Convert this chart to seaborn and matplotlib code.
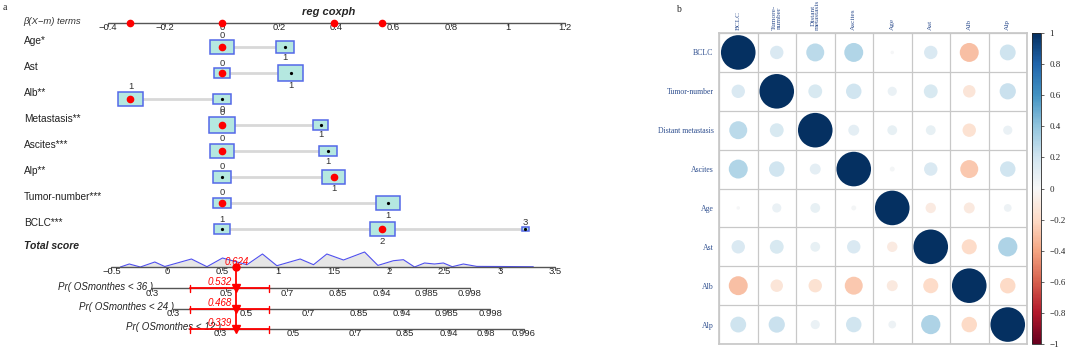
import numpy as np
import pandas as pd
import matplotlib
matplotlib.use("Agg")
import matplotlib.pyplot as plt
import matplotlib.patches as mpatches
import seaborn as sns

sns.set_theme(style="white")
plt.rcParams["font.family"] = ["Liberation Sans", "DejaVu Sans"]

# ---------------- panel a: nomogram ----------------
terms = ["Age*", "Ast", "Alb**", "Metastasis**", "Ascites***", "Alp**",
         "Tumor-number***", "BCLC***"]
term_levels = [["0", "1"], ["0", "1"], ["1", "0"], ["0", "1"], ["0", "1"],
               ["0", "1"], ["0", "1"], ["1", "2", "3"]]
term_betas = [[0, 0.22], [0, 0.24], [-0.32, 0], [0, 0.345], [0, 0.37],
              [0, 0.39], [0, 0.58], [0, 0.56, 1.06]]
term_freqs = [[0.61, 0.39], [0.30, 0.70], [0.65, 0.35], [0.74, 0.26],
              [0.65, 0.35], [0.38, 0.62], [0.36, 0.64], [0.26, 0.69, 0.05]]
patient_level = [0, 0, 0, 0, 0, 1, 0, 1]

beta_ticks = [-0.4, -0.2, 0, 0.2, 0.4, 0.6, 0.8, 1, 1.2]
score_ticks = [-0.5, 0, 0.5, 1, 1.5, 2, 2.5, 3, 3.5]
total_score = 0.624
score_ci = [0.21, 0.92]

# density of total score
dens_score = [-0.42, -0.34, -0.24, -0.11, -0.02, 0.22, 0.36, 0.5, 0.72, 0.86,
              0.99, 1.2, 1.32, 1.44, 1.59, 1.78, 1.9, 2.04, 2.13, 2.23, 2.32,
              2.41, 2.49, 2.57, 2.67, 2.79, 3.0, 3.3]
dens_height = [0, 3, 0, 5, 0.5, 8, 0.3, 9, 2.3, 13, 1.3, 8, 2.3, 13, 7, 15,
               1.6, 6.3, 7.3, 0, 4, 3, 4, 0.3, 3, 0.6, 0.5, 0.3]

horizons = [36, 24, 12]
prob_at_score = [0.532, 0.468, 0.339]
prob_ticks = [[0.3, 0.5, 0.7, 0.85, 0.94, 0.985, 0.998],
              [0.3, 0.5, 0.7, 0.85, 0.94, 0.985, 0.998],
              [0.3, 0.5, 0.7, 0.85, 0.94, 0.98, 0.996]]

# ---------------- panel b: correlations ----------------
corr_cols = ["BCLC", "Tumore-\nnumber", "Distant\nmetastasis", "Ascites",
             "Age", "Ast", "Alb", "Alp"]
corr_rows = ["BCLC", "Tumor-number", "Distant metastasis", "Ascites",
             "Age", "Ast", "Alb", "Alp"]
corr = [
    [1.00, 0.15, 0.27, 0.30, 0.01, 0.15, -0.30, 0.21],
    [0.15, 1.00, 0.16, 0.20, 0.07, 0.16, -0.13, 0.22],
    [0.27, 0.16, 1.00, 0.10, 0.08, 0.08, -0.15, 0.07],
    [0.30, 0.20, 0.10, 1.00, 0.02, 0.15, -0.27, 0.20],
    [0.01, 0.07, 0.08, 0.02, 1.00, -0.09, -0.10, 0.05],
    [0.15, 0.16, 0.08, 0.15, -0.09, 1.00, -0.19, 0.31],
    [-0.30, -0.13, -0.15, -0.27, -0.10, -0.19, 1.00, -0.20],
    [0.21, 0.22, 0.07, 0.20, 0.05, 0.31, -0.20, 1.00],
]
cbar_ticks = [1, 0.8, 0.6, 0.4, 0.2, 0, -0.2, -0.4, -0.6, -0.8, -1]


def fmt(v):
    return f"{v:g}".replace("-", "\u2212")


def cloglog(p):
    return np.log(-np.log(1 - np.asarray(p, dtype=float)))


W, H = 1065, 348
fig = plt.figure(figsize=(W / 100, H / 100), dpi=100)
fig.patch.set_facecolor("white")

# two overlaid axes for the nomogram: beta units and total-score units
rect_a = [0, 0, 660 / W, 1]
ax_b = fig.add_axes(rect_a)
ax_b.set_xlim(-222 / 286, (660 - 222) / 286)
ax_b.set_ylim(H, 0)
ax_b.axis("off")
ax_s = fig.add_axes(rect_a, facecolor="none")
ax_s.set_xlim(-167 / 111, (660 - 167) / 111)
ax_s.set_ylim(H, 0)
ax_s.axis("off")

axis_col = "#555555"
tick_fs = 6.8

fig.text(3 / W, 1 - 8 / H, "a", family="Liberation Serif", fontsize=7, va="center")
fig.text(329 / W, 1 - 12 / H, "reg coxph", fontsize=8, weight="bold",
         style="italic", ha="center", va="center")
fig.text(23 / W, 1 - 21 / H, "\u03b2(X\u2212m) terms", fontsize=6.8,
         style="italic", va="center", color="#333333")

# beta axis
ax_b.plot([beta_ticks[0], beta_ticks[-1]], [23, 23], color=axis_col, lw=1)
for t in beta_ticks:
    ax_b.plot([t, t], [23, 26], color=axis_col, lw=0.7)
    ax_b.text(t, 23.5, fmt(t), ha="center", va="top", fontsize=tick_fs)
obs_betas = sorted(set(term_betas[i][patient_level[i]] for i in range(len(terms))))
ax_b.plot(obs_betas, [23] * len(obs_betas), "o", color="red", ms=4.5, zorder=5)

# term rows
row_y = [47 + 26 * i for i in range(len(terms))]
for i, term in enumerate(terms):
    y = row_y[i]
    bs = term_betas[i]
    ax_b.plot([min(bs), max(bs)], [y, y], color="#d8d8d8", lw=2, zorder=1)
    for k, (lab, b, f) in enumerate(zip(term_levels[i], bs, term_freqs[i])):
        w = 30 * np.sqrt(f) / 286
        h = 18 * np.sqrt(f)
        ax_b.add_patch(mpatches.Rectangle((b - w / 2, y - h / 2), w, h,
                                          fc="#b5e8e0", ec="#5468e8", lw=1.1, zorder=2))
        if k == patient_level[i]:
            ax_b.plot(b, y, "o", color="red", ms=4.5, zorder=3)
        else:
            ax_b.plot(b, y, "o", color="black", ms=1.3, zorder=3)
        if k % 2 == 0:
            ax_b.text(b, y - h / 2 - 0.3, lab, ha="center", va="bottom",
                      fontsize=tick_fs, color="#333333")
        else:
            ax_b.text(b, y + h / 2 + 0.3, lab, ha="center", va="top",
                      fontsize=tick_fs, color="#333333")
    fig.text(24 / W, 1 - (y - 6) / H, term, fontsize=7.3, va="center", color="#222222")

fig.text(24 / W, 1 - 246 / H, "Total score", fontsize=7.5, weight="bold",
         style="italic", va="center")

# total score axis with density
base = 267
dens_top = base - np.array(dens_height)
ax_s.fill_between(dens_score, base, dens_top, color="#e6e6e6", lw=0, zorder=1)
ax_s.plot(dens_score, dens_top, color="#5050ee", lw=0.8, zorder=2)
ax_s.plot([score_ticks[0], score_ticks[-1]], [base, base], color=axis_col, lw=1, zorder=3)
for t in score_ticks:
    ax_s.plot([t, t], [base, base + 3], color=axis_col, lw=0.7)
    ax_s.text(t, base + 0.5, fmt(t), ha="center", va="top", fontsize=tick_fs)

# probability rows
prob_y = [288, 309, 329]
for j, hz in enumerate(horizons):
    yr = prob_y[j]
    shift = cloglog(prob_at_score[j]) - total_score
    xs = cloglog(prob_ticks[j]) - shift
    ax_s.plot([xs[0], xs[-1]], [yr, yr], color=axis_col, lw=1, zorder=3)
    for p, x in zip(prob_ticks[j], xs):
        ax_s.plot([x, x], [yr, yr + 3], color=axis_col, lw=0.7)
        ax_s.text(x, yr + 0.5, fmt(p), ha="center", va="top", fontsize=tick_fs)
    ax_s.text(xs[0] + 1 / 111, yr - 1.5, f"Pr( OSmonthes < {hz} )", ha="right",
              va="center", style="italic", fontsize=7, color="#222222")
    # observation
    ax_s.plot(score_ci, [yr, yr], color="red", lw=1.3, zorder=5)
    for c in score_ci:
        ax_s.plot([c, c], [yr - 3.5, yr + 3.5], color="red", lw=1, zorder=5)
    ax_s.plot(total_score, yr - 0.5, marker="v", color="red", ms=5.5, zorder=6)
    ax_s.text(total_score - 4 / 111, yr - 6, f"{prob_at_score[j]:.3f}", color="red",
              style="italic", ha="right", va="center", fontsize=7, zorder=6)

ax_s.plot([total_score, total_score], [base, prob_y[-1]], color="red", lw=1.3, zorder=5)
ax_s.plot(total_score, base, "o", color="red", ms=5, zorder=6)
ax_s.text(total_score, base - 5, f"{total_score:.3f}", color="red", style="italic",
          ha="center", va="center", fontsize=7, zorder=7)

# ---------------- panel b ----------------
lab_col = "#2f4f8f"
serif = "Liberation Serif"
fig.text(676 / W, 1 - 10 / H, "b", family=serif, fontsize=7, va="center")

axc = fig.add_axes([719 / W, 1 - 344 / H, 308 / W, (344 - 33) / H])
df = pd.DataFrame([{"x": j, "y": i, "r": corr[i][j]}
                   for i in range(len(corr_rows)) for j in range(len(corr_cols))])
df["absr"] = df["r"].abs()
sns.scatterplot(data=df, x="x", y="y", hue="r", palette="RdBu", hue_norm=(-1, 1),
                size="absr", sizes=(0, 620), size_norm=(0, 1), linewidth=0,
                legend=False, ax=axc, zorder=3)
axc.set_xlim(-0.5, len(corr_cols) - 0.5)
axc.set_ylim(len(corr_rows) - 0.5, -0.5)
for k in np.arange(-0.5, len(corr_cols)):
    axc.axvline(k, color="#c8c8c8", lw=0.9, zorder=1)
for k in np.arange(-0.5, len(corr_rows)):
    axc.axhline(k, color="#c8c8c8", lw=0.9, zorder=1)
for sp in axc.spines.values():
    sp.set_color("#c8c8c8")
axc.xaxis.tick_top()
axc.set_xticks(range(len(corr_cols)))
axc.set_xticklabels(corr_cols, rotation=90, fontsize=5.2, color=lab_col,
                    family=serif, linespacing=0.85)
axc.set_yticks(range(len(corr_rows)))
axc.set_yticklabels(corr_rows, fontsize=5.6, color=lab_col, family=serif)
axc.tick_params(axis="x", length=0, pad=2)
axc.tick_params(axis="y", length=0, pad=4)
axc.set_xlabel("")
axc.set_ylabel("")

cax = fig.add_axes([1032 / W, 1 - 344 / H, 9 / W, (344 - 33) / H])
sm = plt.cm.ScalarMappable(norm=plt.Normalize(-1, 1), cmap="RdBu")
cb = fig.colorbar(sm, cax=cax, ticks=cbar_ticks)
cb.ax.set_yticklabels([fmt(v) for v in cbar_ticks], fontsize=6.5, family=serif)
cb.ax.tick_params(length=2, width=0.5, pad=4)
cb.outline.set_linewidth(0.6)

fig.savefig("out.png", dpi=100)
